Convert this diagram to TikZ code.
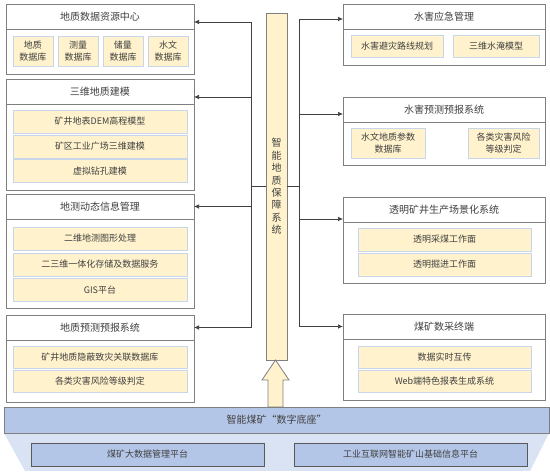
\documentclass[tikz,border=0pt]{standalone}
\usepackage{fontspec}
\setmainfont{Noto Sans CJK SC}
\usetikzlibrary{arrows.meta}
\definecolor{itemfill}{HTML}{FFF2CC}
\definecolor{itemline}{HTML}{C9D6EA}
\definecolor{frameline}{HTML}{7F7F7F}
\definecolor{basefill}{HTML}{B4C6E7}
\definecolor{basepale}{HTML}{DAE3F3}
\definecolor{txt}{HTML}{404040}

\begin{document}
\begin{tikzpicture}[x=1pt,y=-1pt,
    every node/.style={inner sep=0pt,outer sep=0pt,text=txt},
    sz/.style 2 args={minimum width=#1,minimum height=#2},
    frame/.style={draw=frameline,line width=0.8pt,fill=white},
    title/.style={frame,font=\fontsize{10}{12}\selectfont},
    item/.style={draw=itemline,line width=0.8pt,fill=itemfill,align=center,font=\fontsize{9}{11.5}\selectfont},
    link/.style={draw=black!75,line width=0.7pt},
    arr/.style={link,-{Latex[length=5pt,width=4.5pt]}}]
    \useasboundingbox (0,0) rectangle (550,476);

    \node[title,sz={188}{25}] (resT) at (100,16.5) {地质数据资源中心};
    \node[frame,sz={188}{45}] (res) at (100,51.5) {};
    \node[item,sz={40}{30}] (res1) at (33,51) {地质\\数据库};
    \node[item,sz={40}{30}] (res2) at (78,51) {测量\\数据库};
    \node[item,sz={40}{30}] (res3) at (123,51) {储量\\数据库};
    \node[item,sz={40}{30}] (res4) at (168,51) {水文\\数据库};

    \node[title,sz={188}{25}] (modelT) at (100,91.5) {三维地质建模};
    \node[frame,sz={188}{86}] (model) at (100,147) {};
    \node[item,sz={174}{23}] (model1) at (100,121.5) {矿井地表DEM高程模型};
    \node[item,sz={174}{23}] (model2) at (100,146.5) {矿区工业广场三维建模};
    \node[item,sz={174}{23}] (model3) at (100,171) {虚拟钻孔建模};

    \node[title,sz={188}{25}] (monT) at (100,206.5) {地测动态信息管理};
    \node[frame,sz={188}{89}] (mon) at (100,263.5) {};
    \node[item,sz={174}{23}] (mon1) at (100,238.5) {二维地测图形处理};
    \node[item,sz={174}{23}] (mon2) at (100,264.5) {二三维一体化存储及数据服务};
    \node[item,sz={174}{23}] (mon3) at (100,290) {GIS平台};

    \node[title,sz={188}{25}] (fcT) at (100,327.5) {地质预测预报系统};
    \node[frame,sz={188}{62}] (fc) at (100,371) {};
    \node[item,sz={174}{22}] (fc1) at (100,357) {矿井地质隐蔽致灾关联数据库};
    \node[item,sz={174}{22}] (fc2) at (100,381.5) {各类灾害风险等级判定};

    \node[title,sz={202}{25}] (floodT) at (444,16.5) {水害应急管理};
    \node[frame,sz={202}{36}] (flood) at (444,47) {};
    \node[item,sz={92}{22}] (flood1) at (397,46) {水害避灾路线规划};
    \node[item,sz={86}{22}] (flood2) at (496,46) {三维水淹模型};

    \node[title,sz={202}{25}] (waterT) at (444,109.5) {水害预测预报系统};
    \node[frame,sz={202}{43}] (water) at (444,143.5) {};
    \node[item,sz={74}{30}] (water1) at (388,143) {水文地质参数\\数据库};
    \node[item,sz={71}{30}] (water2) at (503.5,143) {各类灾害风险\\等级判定};

    \node[title,sz={202}{25}] (sceneT) at (444,209.5) {透明矿井生产场景化系统};
    \node[frame,sz={202}{61}] (scene) at (444,252.5) {};
    \node[item,sz={173}{23}] (scene1) at (444.5,239.5) {透明采煤工作面};
    \node[item,sz={173}{23}] (scene2) at (444.5,264.5) {透明掘进工作面};

    \node[title,sz={202}{25}] (termT) at (444,326.5) {煤矿数采终端};
    \node[frame,sz={202}{61}] (term) at (444,369.5) {};
    \node[item,sz={173}{22}] (term1) at (444.5,357) {数据实时互传};
    \node[item,sz={173}{22}] (term2) at (444.5,381.5) {Web端特色报表生成系统};

    \node[draw=frameline,line width=0.8pt,fill=itemfill,sz={21}{347},align=center,
        font=\fontsize{10}{12.4}\selectfont] (core) at (276.5,186.5)
        {智\\能\\地\\质\\保\\障\\系\\统};
    \filldraw[draw=frameline,fill=itemfill,line width=0.8pt]
        (275.5,360) -- (289,380) -- (283,380) -- (283,407) -- (268,407)
        -- (268,380) -- (262,380) -- cycle;

    \coordinate (lbus) at (251,186.5);
    \coordinate (rbus) at (299,186.5);
    \draw[link,line width=1.2pt] (core.west) -- (lbus);
    \draw[link,line width=1.2pt] (core.east) -- (rbus);
    \draw[arr] (lbus) |- ([yshift=-5.5pt]resT.east);
    \draw[arr] (lbus) |- ([yshift=-5.5pt]modelT.east);
    \draw[arr] (lbus) |- (monT.east);
    \draw[arr] (lbus) |- (fcT.east);
    \draw[arr] (rbus) |- ([yshift=-2.5pt]floodT.west);
    \draw[arr] (rbus) |- ([yshift=-4.5pt]waterT.west);
    \draw[arr] (rbus) |- ([yshift=-9.5pt]sceneT.west);
    \draw[arr] (rbus) |- (termT.west);

    \fill[basepale] (4,433) -- (549,433) -- (530,471) -- (25,471) -- cycle;
    \node[draw=frameline,line width=0.8pt,fill=basefill,sz={545}{26},
        font=\fontsize{10}{12}\selectfont] (base) at (276.5,420) {智能煤矿“数字底座”};
    \node[draw=black!65,line width=0.8pt,fill=basefill,sz={233}{23},
        font=\fontsize{9}{11}\selectfont] (bigdata) at (147.5,454.5) {煤矿大数据管理平台};
    \node[draw=black!65,line width=0.8pt,fill=basefill,sz={233}{23},
        font=\fontsize{9}{11}\selectfont] (iiot) at (410.5,454.5) {工业互联网智能矿山基础信息平台};
\end{tikzpicture}
\end{document}
